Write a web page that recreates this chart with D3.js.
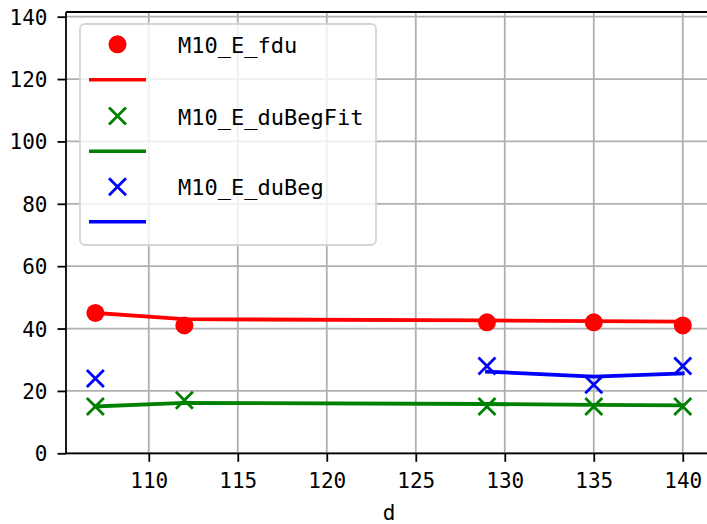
<!DOCTYPE html>
<html>
<head>
<meta charset="utf-8">
<script src="https://cdn.jsdelivr.net/npm/d3@7"></script>
<style>
  html, body { margin: 0; padding: 0; background: #ffffff; }
  svg { display: block; }
</style>
</head>
<body>
<svg id="chart" width="707" height="524"></svg>
<script>
// ---- data ----
const dValues = [107, 112, 129, 135, 140];
const fduPoints = [45, 41, 42, 42, 41];
const fduLine = [45, 43, 42.6, 42.4, 42.2];
const duBegFitPoints = [15, 17, 15, 15, 15];
const duBegFitLine = [15, 16.2, 15.8, 15.5, 15.4];
const duBegX = [107, 129, 135, 140];
const duBegPoints = [24, 28, 22, 28];
const duBegLineX = [129, 135, 140];
const duBegLine = [26.2, 24.6, 25.6];
const xTicks = [110, 115, 120, 125, 130, 135, 140];
const yTicks = [0, 20, 40, 60, 80, 100, 120, 140];
const seriesNames = ["M10_E_fdu", "M10_E_duBegFit", "M10_E_duBeg"];
const colors = ["#ff0000", "#008000", "#0000ff"];
const xLabel = "d";

// ---- layout ----
const svg = d3.select("#chart");
const pLeft = 66, pTop = 12, pBottom = 453.3;
const x = d3.scaleLinear().domain([105.35, 141.65]).range([pLeft, pLeft + 36.3 * 17.8]);
const y = d3.scaleLinear().domain([0, 141.5]).range([pBottom, pTop]);
const pRight = x.range()[1];
const font = "'DejaVu Sans Mono', monospace";

// grid
const grid = svg.append("g");
grid.selectAll("line.gx").data(xTicks).join("line")
  .attr("x1", d => x(d)).attr("x2", d => x(d))
  .attr("y1", pTop).attr("y2", pBottom)
  .attr("stroke", "#b0b0b0").attr("stroke-width", 1.8);
grid.selectAll("line.gy").data(yTicks).join("line")
  .attr("x1", pLeft).attr("x2", pRight)
  .attr("y1", d => y(d)).attr("y2", d => y(d))
  .attr("stroke", "#b0b0b0").attr("stroke-width", 1.8);

// data marks
const plot = svg.append("g");
const lineGen = (xs) => d3.line().x((d, i) => x(xs[i])).y(d => y(d));

function drawX(g, xs, vals, color) {
  const s = 8.5;
  g.selectAll(null).data(vals).join("path")
    .attr("d", (d, i) => {
      const cx = x(xs[i]), cy = y(d);
      return `M${cx - s},${cy - s}L${cx + s},${cy + s}M${cx - s},${cy + s}L${cx + s},${cy - s}`;
    })
    .attr("stroke", color).attr("stroke-width", 2.8).attr("fill", "none");
}

// fdu
plot.append("g").selectAll("circle").data(fduPoints).join("circle")
  .attr("cx", (d, i) => x(dValues[i])).attr("cy", d => y(d)).attr("r", 9)
  .attr("fill", colors[0]);
plot.append("path").datum(fduLine).attr("d", lineGen(dValues))
  .attr("fill", "none").attr("stroke", colors[0]).attr("stroke-width", 3.8)
  .attr("stroke-linecap", "square");
// duBegFit
drawX(plot.append("g"), dValues, duBegFitPoints, colors[1]);
plot.append("path").datum(duBegFitLine).attr("d", lineGen(dValues))
  .attr("fill", "none").attr("stroke", colors[1]).attr("stroke-width", 3.8)
  .attr("stroke-linecap", "square");
// duBeg
drawX(plot.append("g"), duBegX, duBegPoints, colors[2]);
plot.append("path").datum(duBegLine).attr("d", lineGen(duBegLineX))
  .attr("fill", "none").attr("stroke", colors[2]).attr("stroke-width", 3.8)
  .attr("stroke-linecap", "square");

// axes
const xAxis = d3.axisBottom(x).tickValues(xTicks).tickSize(8.5).tickPadding(7).tickFormat(d3.format("d"));
const yAxis = d3.axisLeft(y).tickValues(yTicks).tickSize(8.5).tickPadding(10).tickFormat(d3.format("d"));
const gx = svg.append("g").attr("transform", `translate(0,${pBottom})`).call(xAxis);
const gy = svg.append("g").attr("transform", `translate(${pLeft},0)`).call(yAxis);
[gx, gy].forEach(g => {
  g.select(".domain").remove();
  g.selectAll(".tick line").attr("stroke", "#000").attr("stroke-width", 1.8);
  g.selectAll(".tick text").attr("fill", "#000").style("font-family", font).style("font-size", "21px");
});
gx.selectAll(".tick text").attr("dy", "0.9em");
gy.selectAll(".tick text").attr("dy", "0.36em");

// spines
const spines = svg.append("g").attr("stroke", "#000").attr("stroke-width", 1.8).attr("fill", "none");
spines.append("line").attr("x1", pLeft).attr("x2", pLeft).attr("y1", pTop).attr("y2", pBottom);
spines.append("line").attr("x1", pLeft).attr("x2", pRight).attr("y1", pBottom).attr("y2", pBottom);
spines.append("line").attr("x1", pLeft).attr("x2", pRight).attr("y1", pTop).attr("y2", pTop);
spines.append("line").attr("x1", pRight).attr("x2", pRight).attr("y1", pTop).attr("y2", pBottom);

// x label
svg.append("text").attr("x", (pLeft + pRight) / 2).attr("y", 519.5)
  .attr("text-anchor", "middle").style("font-family", font).style("font-size", "21px")
  .text(xLabel);

// legend
const lg = svg.append("g");
lg.append("rect").attr("x", 80).attr("y", 24).attr("width", 296).attr("height", 221)
  .attr("rx", 5).attr("fill", "#ffffff").attr("fill-opacity", 0.8)
  .attr("stroke", "#d6d6d6").attr("stroke-width", 1.8);
const rowY = [44.3, 79.7, 116, 151.2, 186.7, 221.8];
const hx = 117.5, hx1 = 89, hx2 = 146;
seriesNames.forEach((name, k) => {
  const ym = rowY[2 * k], yl = rowY[2 * k + 1];
  if (k === 0) {
    lg.append("circle").attr("cx", hx).attr("cy", ym).attr("r", 9).attr("fill", colors[k]);
  } else {
    const s = 8.5;
    lg.append("path").attr("d", `M${hx - s},${ym - s}L${hx + s},${ym + s}M${hx - s},${ym + s}L${hx + s},${ym - s}`)
      .attr("stroke", colors[k]).attr("stroke-width", 2.8).attr("fill", "none");
  }
  lg.append("line").attr("x1", hx1).attr("x2", hx2).attr("y1", yl).attr("y2", yl)
    .attr("stroke", colors[k]).attr("stroke-width", 3.6);
  lg.append("text").attr("x", 178).attr("y", ym + 8.5)
    .style("font-family", font).style("font-size", "22px").attr("fill", "#000")
    .text(name);
});
</script>
</body>
</html>
